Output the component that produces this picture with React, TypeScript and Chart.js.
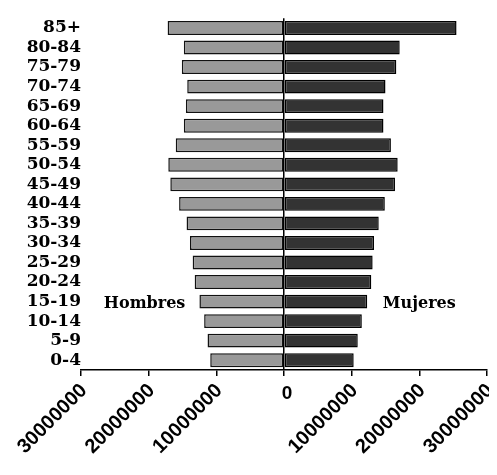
import React, { useEffect, useRef } from "react";
import { Chart, registerables } from "chart.js";

Chart.register(...registerables);

const AGE_GROUPS = [
  "85+", "80-84", "75-79", "70-74", "65-69", "60-64", "55-59", "50-54", "45-49",
  "40-44", "35-39", "30-34", "25-29", "20-24", "15-19", "10-14", "5-9", "0-4",
];

const HOMBRES = [
  17200000, 14800000, 15100000, 14300000, 14500000, 14800000, 16000000, 17100000, 16800000,
  15500000, 14400000, 13900000, 13500000, 13200000, 12500000, 11800000, 11300000, 10900000,
];

const MUJERES = [
  25500000, 17100000, 16600000, 15000000, 14700000, 14700000, 15800000, 16800000, 16400000,
  14900000, 14000000, 13300000, 13100000, 12900000, 12300000, 11500000, 10900000, 10300000,
];

const X_MIN = -30000000;
const X_MAX = 30000000;
const X_STEP = 10000000;

const SIDE_LABELS = [
  { text: "Hombres", value: -20600000, category: "15-19" },
  { text: "Mujeres", value: 20000000, category: "15-19" },
];

const sideLabelsPlugin = {
  id: "sideLabels",
  afterDraw(chart: any) {
    const { ctx, scales } = chart;
    const x = scales.x;
    const y = scales.y;
    ctx.save();
    ctx.fillStyle = "#000";
    ctx.font = 'bold 16px "DejaVu Serif"';
    ctx.textAlign = "center";
    ctx.textBaseline = "middle";
    SIDE_LABELS.forEach((l) => {
      ctx.fillText(l.text, x.getPixelForValue(l.value), y.getPixelForValue(AGE_GROUPS.indexOf(l.category)) + 2);
    });
    // upright zero tick label
    ctx.font = 'bold 19px "Liberation Sans"';
    ctx.textBaseline = "middle";
    ctx.fillText("0", x.getPixelForValue(0) + 3, x.top + 24);
    ctx.restore();
  },
};

export default function App() {
  const ref = useRef<HTMLCanvasElement | null>(null);
  useEffect(() => {
    if (!ref.current) return;
    const chart = new Chart(ref.current, {
      type: "bar",
      data: {
        labels: AGE_GROUPS,
        datasets: [
          {
            label: "Hombres",
            data: HOMBRES.map((v) => -v),
            backgroundColor: "#999999",
            borderColor: "#111111",
            borderWidth: 1.5,
            borderSkipped: false,
            barPercentage: 0.71,
            categoryPercentage: 1,
          },
          {
            label: "Mujeres",
            data: MUJERES,
            backgroundColor: "#333333",
            borderColor: "#000000",
            borderWidth: 1.5,
            borderSkipped: false,
            barPercentage: 0.71,
            categoryPercentage: 1,
          },
        ],
      },
      options: {
        indexAxis: "y",
        animation: false,
        responsive: true,
        maintainAspectRatio: false,
        layout: { padding: { top: 5, right: 10, left: 0, bottom: 0 } },
        plugins: {
          legend: { display: false },
          tooltip: { enabled: false },
          title: { display: false },
        },
        scales: {
          x: {
            stacked: true,
            min: X_MIN,
            max: X_MAX,
            afterFit: (scale: any) => {
              scale.height = 97;
              scale.paddingRight = 0;
              scale.paddingLeft = 0;
            },
            ticks: {
              stepSize: X_STEP,
              minRotation: 45,
              maxRotation: 45,
              autoSkip: false,
              color: "#000",
              padding: 3,
              labelOffset: 3,
              font: { family: "Liberation Sans", weight: "bold", size: 20 },
              callback: (value: any) => (Number(value) === 0 ? "" : String(Math.abs(Number(value)))),
            },
            grid: {
              color: (c: any) => (c.tick && c.tick.value === 0 ? "#000" : "rgba(0,0,0,0)"),
              lineWidth: 1.5,
              tickColor: "#000",
              tickLength: 6,
              drawTicks: true,
            },
            border: { display: true, color: "#000", width: 1.5 },
          },
          y: {
            stacked: true,
            afterFit: (scale: any) => {
              scale.width = 73;
            },
            ticks: {
              color: "#000",
              padding: 0,
              autoSkip: false,
              font: { family: "DejaVu Serif", weight: "bold", size: 17 },
            },
            grid: { display: false, drawTicks: false },
            border: { display: false },
          },
        },
      },
      plugins: [sideLabelsPlugin],
    });
    return () => chart.destroy();
  }, []);
  return (
    <div style={{ position: "relative", width: 489, height: 459 }}>
      <canvas ref={ref} />
    </div>
  );
}
